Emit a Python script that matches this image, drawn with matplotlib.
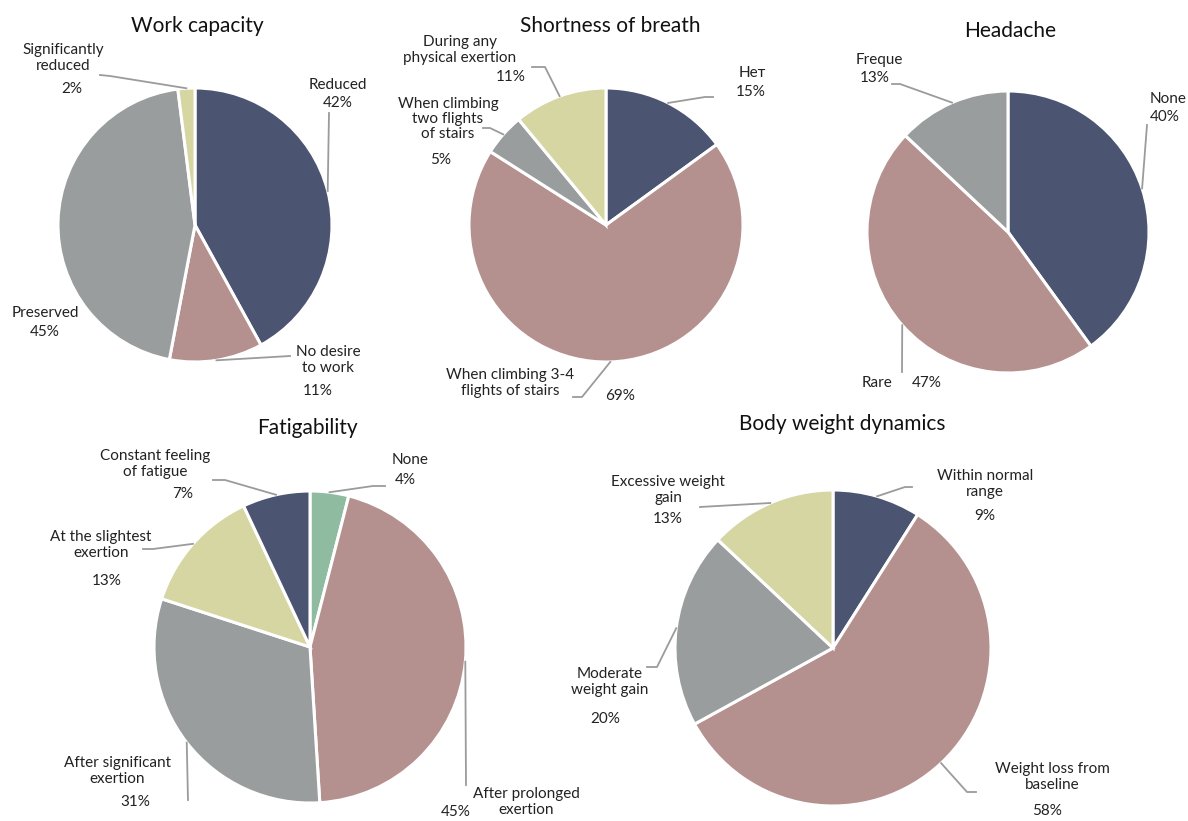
import numpy as np
import matplotlib.pyplot as plt

W, H = 1188, 821

# --- data ---
work_labels = ["Reduced", "No desire\nto work", "Preserved", "Significantly\nreduced"]
work_values = [42, 11, 45, 2]

breath_labels = ["Нет", "When climbing 3-4\nflights of stairs", "When climbing\ntwo flights\nof stairs",
                 "During any\nphysical exertion"]
breath_values = [15, 69, 5, 11]

head_labels = ["None", "Rare", "Freque"]
head_values = [40, 47, 13]

fat_labels = ["None", "After prolonged\nexertion", "After significant\nexertion", "At the slightest\nexertion",
              "Constant feeling\nof fatigue"]
fat_values = [4, 45, 31, 13, 7]

weight_labels = ["Within normal\nrange", "Weight loss from\nbaseline", "Moderate\nweight gain",
                 "Excessive weight\ngain"]
weight_values = [9, 58, 20, 13]

DARK = "#4b5471"
ROSE = "#b4918f"
GRAY = "#9a9d9e"
YELL = "#d6d6a3"
GREEN = "#8fbba0"
LINE = "#9b9b9b"

plt.rcParams['font.family'] = ['Lato', 'DejaVu Sans']

fig = plt.figure(figsize=(W / 100, H / 100), dpi=100)
ax = fig.add_axes([0, 0, 1, 1])


def Y(y):
    return H - y


# layout: (title, title pos, center, radius, labels, values, colors, per-slice label layout)
# slice layout: name xy, pct xy, leader points after the edge point
charts = [
    ("Work capacity", (197, 26), (195, 225), 137, work_labels, work_values,
     [DARK, ROSE, GRAY, YELL],
     [((338, 85), (338, 103), [(329, 113)]),
      ((328, 360), (318, 391), [(290, 356)]),
      ((45, 313), (45, 332), []),
      ((63, 58), (72, 89), [(110, 76), (100, 75)])]),
    ("Shortness of breath", (610, 26), (606, 225), 137, breath_labels, breath_values,
     [DARK, ROSE, GRAY, YELL],
     [((752, 73), (751, 92), [(705, 97), (713, 97)]),
      ((510, 383), (620, 396), [(582, 397), (573, 397)]),
      ((448, 119), (441, 160), [(490, 128), (483, 128)]),
      ((460, 50), (511, 77), [(545, 67), (532, 67)])]),
    ("Headache", (1010, 31), (1008, 232), 141, head_labels, head_values,
     [DARK, ROSE, GRAY],
     [((1168, 99), (1165, 117), [(1147, 125)]),
      ((877, 383), (927, 383), [(902, 372)]),
      ((879, 60), (875, 78), [(900, 84), (892, 84)])]),
    ("Fatigability", (307, 428), (310, 647), 156, fat_labels, fat_values,
     [GREEN, ROSE, GRAY, YELL, DARK],
     [((410, 460), (405, 480), [(373, 486), (385, 486)]),
      ((526, 802), (456, 812), [(466, 785)]),
      ((117, 771), (135, 802), [(188, 800)]),
      ((101, 545), (107, 581), [(153, 549), (143, 549)]),
      ((155, 464), (183, 494), [(225, 480), (213, 480)])]),
    ("Body weight dynamics", (842, 424), (833, 648), 158, weight_labels, weight_values,
     [DARK, ROSE, GRAY, YELL],
     [((985, 484), (985, 516), [(905, 487), (912, 487)]),
      ((1052, 777), (1047, 811), [(967, 792), (976, 792)]),
      ((610, 682), (605, 719), [(657, 667), (647, 667)]),
      ((668, 490), (668, 519), [(700, 507)])]),
]

for title, tpos, c, r, labels, values, colors, lay in charts:
    wedges, _ = ax.pie(values, colors=colors, startangle=90, counterclock=False,
                       center=(c[0], Y(c[1])), radius=r,
                       wedgeprops=dict(edgecolor="white", linewidth=2.2))
    ax.text(tpos[0], Y(tpos[1]), title, ha="center", va="center", fontsize=15, color="#111111")
    for w, lab, v, (nxy, pxy, pts) in zip(wedges, labels, values, lay):
        ax.text(nxy[0], Y(nxy[1]), lab, ha="center", va="center", fontsize=11,
                color="#222222", linespacing=1.1)
        ax.text(pxy[0], Y(pxy[1]), f"{v}%", ha="center", va="center", fontsize=11, color="#222222")
        if pts:
            mid = np.deg2rad((w.theta1 + w.theta2) / 2)
            ex = c[0] + r * np.cos(mid)
            ey = Y(c[1]) + r * np.sin(mid)
            xs = [ex] + [p[0] for p in pts]
            ys = [ey] + [Y(p[1]) for p in pts]
            ax.plot(xs, ys, color=LINE, lw=1.3)

ax.set_xlim(0, W)
ax.set_ylim(0, H)
ax.set_aspect("equal")
ax.axis("off")

fig.savefig("out.png", dpi=100)
